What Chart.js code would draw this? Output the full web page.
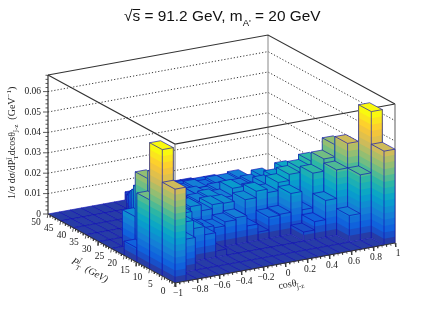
<!DOCTYPE html>
<html>
<head>
<meta charset="utf-8">
<script src="https://cdn.jsdelivr.net/npm/chart.js@4"></script>
<style>body{margin:0;background:#fff}canvas{display:block}</style>
</head>
<body>
<canvas id="lego" width="443" height="318"></canvas>
<script>
// bin edges
const cosEdges = [-1,-0.9,-0.8,-0.7,-0.6,-0.5,-0.4,-0.3,-0.2,-0.1,0,0.1,0.2,0.3,0.4,0.5,0.6,0.7,0.8,0.9,1];
const ptEdges = [0,5,10,15,20,25,30,35,40,45,50];

// one list per pT bin, left to right in cos
const pt0to5   = [.046,0,0,0,0,0,0,0,0,0,0,0,0,0,0,0,0,0,0,.046];
const pt5to10  = [.062,.032,.016,0,0,0,0,0,0,0,0,0,0,0,0,0,0,.013,.032,.062];
const pt10to15 = [.034,.044,.032,.020,.016,.012,.003,0,0,0,0,0,0,0,.0045,.0086,.018,.032,.044,.034];
const pt15to20 = [.007,.040,.034,.028,.020,.013,.011,.010,.012,.013,.008,.004,.0103,.0108,.020,.011,.028,.034,.040,.007];
const pt20to25 = [0,.018,.029,.022,.019,.017,.018,.015,.017,.0167,.0092,.0165,.0197,.018,.022,.025,.027,.0295,.018,0];
const pt25to30 = [0,0,0,.0227,.018,.016,.017,.014,.015,.016,.015,.0187,.0146,.0156,.018,.020,.023,0,0,0];
const pt30to35 = [0,0,0,0,.0177,.015,.014,.014,.014,.014,.013,.014,.014,.014,.015,.017,0,0,0,0];
const pt35to40 = [0,0,0,0,0,.0125,.012,.012,.012,.012,.013,.012,.013,.013,.0138,0,0,0,0,0];
const pt40to45 = [0,0,0,0,0,0,.007,.008,.009,.009,.009,.009,.009,.009,0,0,0,0,0,0];
const pt45to50 = [0,0,0,0,0,0,0,.004,.005,.005,.005,.005,.005,0,0,0,0,0,0,0];
const rows = [pt0to5,pt5to10,pt10to15,pt15to20,pt20to25,pt25to30,pt30to35,pt35to40,pt40to45,pt45to50];

const zTicks = [0,0.01,0.02,0.03,0.04,0.05,0.06];
const cosTicks = [-1,-0.8,-0.6,-0.4,-0.2,0,0.2,0.4,0.6,0.8,1];
const ptTicks = [0,5,10,15,20,25,30,35,40,45,50];
const zTop = 0.0681;
const nLevels = 20;
const zLevelMax = 0.0618;

// kBird palette stops
const birdR = [.2082,.0592,.0780,.0232,.1802,.5301,.8186,.9956,.9764];
const birdG = [.1664,.3599,.5041,.6419,.7178,.7492,.7328,.7862,.9832];
const birdB = [.5293,.8684,.8385,.7914,.6425,.4662,.3499,.1968,.0539];

function bird(level) {
    const p = Math.min((level + 0.9) / nLevels, 1) * 8, k = Math.min(Math.floor(p), 7), f = p - k;
    const mix = a => Math.round((a[k] + (a[k + 1] - a[k]) * f) * 255);
    return `rgb(${mix(birdR)},${mix(birdG)},${mix(birdB)})`;
}

// fixed view of the lego box
function view(c, p, z) {
    return {
        x: 175 + (c + 1) * 110 - p * 2.54,
        y: 283 - (c + 1) * 20 - p * 1.38 - z * 2040
    };
}

const lineBlue = "#1010b4";
const barLine = 0.65;
const datasets = [];

function addLine(pts, color, width, dash) {
    datasets.push({data: pts, showLine: true, fill: false, borderColor: color, borderWidth: width,
        borderDash: dash || [], pointRadius: 0, tension: 0});
}
function addFill(pts, color) {
    datasets.push({data: pts, showLine: true, fill: "shape", backgroundColor: color, borderWidth: 0,
        borderColor: "transparent", pointRadius: 0, tension: 0});
}
function levelOf(z) {
    return Math.min(Math.floor(z / (zLevelMax / nLevels)), nLevels - 1);
}

// walls and frame behind the bars
zTicks.slice(1).forEach(z => {
    addLine([view(-1, 50, z), view(1, 50, z), view(1, 0, z)], "#222", 0.9, [1.2, 2]);
});
addLine([view(1, 50, 0), view(1, 50, zTop)], "#888", 1);
addLine([view(-1, 50, zTop), view(1, 50, zTop), view(1, 0, zTop)], "#333", 1.1);
addLine([view(-1, 50, zTop), view(-1, 0, zTop), view(1, 0, zTop)], "#333", 1.1);
addLine([view(-1, 0, 0), view(-1, 0, zTop)], "#777", 1);
addLine([view(1, 0, 0), view(1, 0, zTop)], "#777", 1.2);

// bars, far corner first
for (let j = rows.length - 1; j >= 0; j--) {
    for (let i = rows[j].length - 1; i >= 0; i--) {
        const h = rows[j][i];
        const c0 = cosEdges[i], c1 = cosEdges[i + 1], p0 = ptEdges[j], p1 = ptEdges[j + 1];
        const top = levelOf(h);
        if (h > 0) {
            for (let k = 0; k <= top; k++) {
                const zk = k * zLevelMax / nLevels, col = bird(k);
                addFill([view(c0, p1, zk), view(c0, p0, zk), view(c0, p0, h), view(c0, p1, h), view(c0, p1, zk)], col);
                addFill([view(c0, p0, zk), view(c1, p0, zk), view(c1, p0, h), view(c0, p0, h), view(c0, p0, zk)], col);
            }
            addLine([view(c0, p1, 0), view(c0, p1, h)], lineBlue, barLine);
            addLine([view(c0, p0, 0), view(c0, p0, h)], lineBlue, barLine);
            addLine([view(c1, p0, 0), view(c1, p0, h)], lineBlue, barLine);
        }
        const face = [view(c0, p0, h), view(c1, p0, h), view(c1, p1, h), view(c0, p1, h), view(c0, p0, h)];
        addFill(face, bird(top));
        addLine(face, lineBlue, barLine);
    }
}

// axis lines and tick marks
const axisCol = "#333";
addLine([view(-1, 50, 0), view(-1, 50, zTop)], axisCol, 1.2);
addLine([view(-1, 50, 0), view(-1, 0, 0)], axisCol, 1);
addLine([view(-1, 0, 0), view(1, 0, 0)], axisCol, 1);
for (let n = 0; n * 0.002 <= zTop; n++) {
    const a = view(-1, 50, n * 0.002), len = n % 5 == 0 ? 5 : 2.5;
    addLine([a, {x: a.x - len, y: a.y}], axisCol, 0.8);
}
for (let n = 0; n <= 50; n++) {
    const a = view(-1, 50 - n, 0), len = n % 5 == 0 ? 4 : 2;
    addLine([a, {x: a.x - len * 0.2, y: a.y + len}], axisCol, 0.8);
}
for (let n = 0; n <= 50; n++) {
    const a = view(-1 + n * 0.04, 0, 0), len = n % 5 == 0 ? 4 : 2;
    addLine([a, {x: a.x + len * 0.2, y: a.y + len}], axisCol, 0.8);
}

const serif = "'Liberation Serif'", sans = "'Liberation Sans'";

// text run with sub and superscripts, x and y are the run start
function rich(ctx, x, y, angle, pieces) {
    ctx.save();
    ctx.translate(x, y);
    ctx.rotate(angle);
    ctx.textAlign = "left";
    ctx.textBaseline = "alphabetic";
    let pen = 0;
    pieces.forEach(p => {
        ctx.font = p.f;
        ctx.fillText(p.t, pen, p.dy || 0);
        if (p.over) ctx.fillRect(pen, p.over, ctx.measureText(p.t).width, 1);
        if (!p.stay) pen += ctx.measureText(p.t).width;
    });
    ctx.restore();
}

const textPlugin = {
    id: "legoText",
    afterDatasetsDraw(chart) {
        const ctx = chart.ctx, sx = chart.scales.x, sy = chart.scales.y;
        ctx.save();
        ctx.fillStyle = "#222";
        ctx.font = "9.5px " + serif;
        ctx.textAlign = "right";
        ctx.textBaseline = "middle";
        zTicks.forEach(z => {
            const a = view(-1, 50, z);
            ctx.fillText(String(z), sx.getPixelForValue(a.x - 7), sy.getPixelForValue(a.y));
        });
        ctx.textAlign = "center";
        ptTicks.forEach(p => {
            const a = view(-1, p, 0);
            ctx.fillText(String(p), sx.getPixelForValue(a.x - 12), sy.getPixelForValue(a.y + 8));
        });
        cosTicks.forEach(c => {
            const a = view(c, 0, 0);
            ctx.fillText(String(c).replace("-", "\u2212"), sx.getPixelForValue(a.x + 3), sy.getPixelForValue(a.y + 10));
        });
        ctx.fillStyle = "#111";
        const big = "15.4px " + sans, small = "9.5px " + sans;
        rich(ctx, 124, 21, 0, [
            {t: "\u221A", f: big},
            {t: "s", f: big, over: -12},
            {t: " = 91.2 GeV, m", f: big},
            {t: "A'", f: small, dy: 5},
            {t: " = 20 GeV", f: big}
        ]);
        const t = "10px " + serif, it = "italic 10px " + serif, s = "7px " + serif;
        ctx.fillStyle = "#222";
        rich(ctx, 15, 199, -Math.PI / 2, [
            {t: "1/\u03C3 d\u03C3/dP", f: t},
            {t: "T", f: s, dy: 3, stay: true},
            {t: "j\u0304", f: s, dy: -4},
            {t: " dcos\u03B8", f: t},
            {t: "j\u0304-z", f: s, dy: 3},
            {t: "  (GeV", f: t},
            {t: "\u22121", f: s, dy: -4},
            {t: ")", f: t}
        ]);
        rich(ctx, 71, 263, 0.52, [
            {t: "P", f: it},
            {t: "T", f: s, dy: 3, stay: true},
            {t: "j\u0304", f: s, dy: -4},
            {t: "   (GeV)", f: it}
        ]);
        rich(ctx, 279, 289, -0.17, [
            {t: "cos\u03B8", f: t},
            {t: "j\u0304-z", f: s, dy: 3}
        ]);
        ctx.restore();
    }
};

new Chart(document.getElementById("lego"), {
    type: "scatter",
    data: {datasets: datasets.reverse()},
    options: {
        responsive: false,
        animation: false,
        layout: {padding: 0},
        plugins: {legend: {display: false}, tooltip: {enabled: false}},
        scales: {
            x: {type: "linear", display: false, min: 0, max: 443},
            y: {type: "linear", display: false, min: 0, max: 318, reverse: true}
        }
    },
    plugins: [textPlugin]
});
</script>
</body>
</html>
